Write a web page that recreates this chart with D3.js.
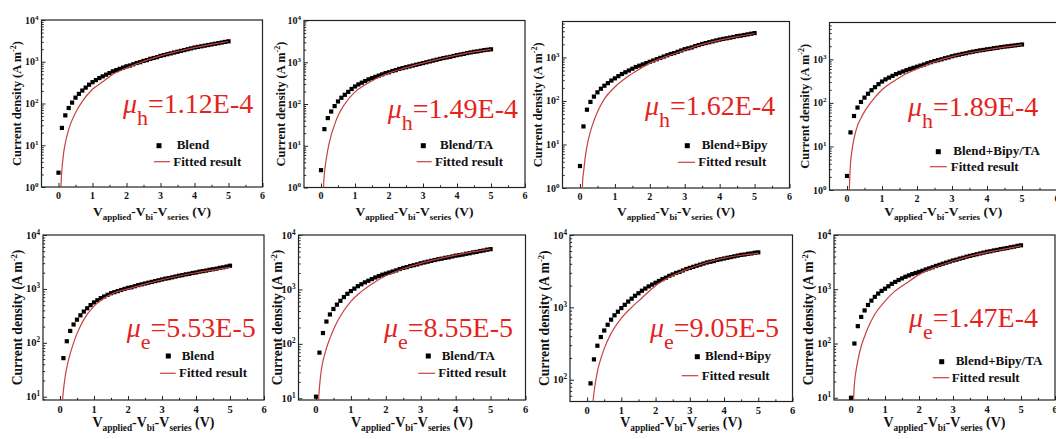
<!DOCTYPE html>
<html>
<head>
<meta charset="utf-8">
<script src="https://cdn.jsdelivr.net/npm/d3@7"></script>
<style>
  html, body { margin: 0; padding: 0; background: #fff; }
  svg { display: block; }
</style>
</head>
<body>
<svg id="chart" width="1056" height="439"></svg>
<script>
// ---------------- DATA ----------------
const voltage = [0,0.1,0.2,0.3,0.4,0.5,0.6,0.7,0.8,0.9,1.0,1.1,1.2,1.3,1.4,1.5,1.6,1.7,1.8,1.9,2.0,
  2.1,2.2,2.3,2.4,2.5,2.6,2.7,2.8,2.9,3.0,3.1,3.2,3.3,3.4,3.5,3.6,3.7,3.8,3.9,4.0,
  4.1,4.2,4.3,4.4,4.5,4.6,4.7,4.8,4.9,5.0];
const fitVoltage = [0.06,0.08,0.1,0.15,0.2,0.3,0.4,0.5,0.7,1.0,1.3,1.6,2.0,2.5,3.0,3.5,4.0,4.5,5.0];

const sampleNames = ["Blend","Blend/TA","Blend+Bipy","Blend+Bipy/TA","Blend","Blend/TA","Blend+Bipy","Blend+Bipy/TA"];
const carriers = ["h","h","h","h","e","e","e","e"];
const mobilities = ["1.12E-4","1.49E-4","1.62E-4","1.89E-4","5.53E-5","8.55E-5","9.05E-5","1.47E-4"];
const fitName = "Fitted result";
const xTicks = [0,1,2,3,4,5,6];
const yDomains = [[1,1e4],[1,1e4],[1,6700],[1,7000],[8.7,1e4],[9.3,1e4],[50,1e4],[9.1,1e4]];

// measured current density (A m^-2)
const jHoleBlend = [2.2,26,52,78,105,138,170,204,240,282,324,363,407,447,490,537,589,631,676,724,776,813,871,933,977,1047,1096,1175,1230,1288,1380,1445,1514,1585,1660,1738,1820,1905,1995,2089,2188,2265,2344,2427,2512,2600,2692,2786,2884,2985,3090];
const jHoleTA = [2.6,25,46,66,89,115,141,166,195,229,263,295,324,355,389,417,447,479,513,550,575,617,646,692,724,759,794,832,871,912,955,1000,1047,1096,1148,1202,1259,1303,1349,1413,1479,1531,1585,1660,1718,1778,1820,1884,1950,1995,2042];
const jHoleBipy = [3.2,26,63,95,126,158,191,224,257,295,331,372,417,457,501,550,603,646,692,741,794,851,912,977,1047,1122,1202,1259,1349,1445,1549,1622,1698,1820,1928,2042,2138,2239,2344,2455,2570,2661,2754,2851,2951,3090,3162,3273,3388,3508,3631];
const jHoleBipyTA = [2.1,21,50,78,105,132,162,195,229,269,309,347,380,417,457,490,525,562,603,638,676,716,759,813,861,912,955,1000,1059,1109,1175,1230,1274,1334,1380,1445,1496,1549,1603,1641,1698,1738,1799,1841,1905,1950,1995,2042,2089,2138,2188];
const jElecBlend = [5,52,107,166,219,269,324,380,437,501,562,617,676,724,776,832,871,912,955,1000,1047,1072,1122,1175,1216,1259,1303,1349,1396,1445,1496,1549,1585,1641,1698,1758,1799,1862,1905,1972,2018,2089,2138,2188,2265,2317,2371,2455,2512,2600,2692];
const jElecTA = [10.7,69,158,257,347,437,525,617,724,832,933,1035,1148,1245,1349,1445,1549,1660,1758,1862,1950,2042,2138,2239,2371,2483,2570,2692,2786,2884,3020,3126,3236,3350,3467,3589,3673,3802,3890,4027,4169,4266,4365,4519,4624,4786,4898,5070,5188,5370,5495];
const jElecBipy = [20,89,191,295,389,479,575,676,776,871,977,1084,1202,1318,1445,1567,1698,1820,1950,2065,2188,2317,2455,2570,2723,2851,2985,3090,3236,3388,3508,3631,3758,3890,4027,4169,4266,4365,4519,4624,4732,4842,4955,5070,5188,5309,5370,5495,5559,5689,5754];
const jElecBipyTA = [10,100,209,309,407,513,617,724,832,933,1023,1135,1259,1365,1479,1585,1698,1799,1905,1995,2089,2188,2317,2427,2541,2692,2818,2951,3090,3236,3388,3508,3673,3802,3981,4121,4266,4416,4571,4732,4898,5012,5188,5309,5495,5623,5754,5957,6095,6310,6457];

// fitted SCLC curves (A m^-2) at fitVoltage
const fitHoleBlend = [0.5,1.5,2.6,6.5,11.2,24,40,60,112,219,331,501,708,1023,1380,1758,2188,2600,3055];
const fitHoleTA = [0.5,1.3,2.2,4.5,8,18,32,52,100,195,288,398,550,741,955,1202,1479,1778,2042];
const fitHoleBipy = [0.5,1.6,2.2,5,9,20,35,56,112,209,331,479,741,1072,1479,1995,2512,3020,3548];
const fitHoleBipyTA = [0.7,2.0,4.0,8.9,15,30,45,63,107,200,302,427,603,871,1148,1413,1660,1905,2138];
const fitElecBlend = [5,9.5,13,23,35,63,100,148,269,479,676,851,1000,1230,1479,1738,1995,2239,2512];
const fitElecTA = [5,10.5,15.8,32,48,83,126,182,324,603,912,1259,1778,2399,3020,3631,4266,4898,5495];
const fitElecBipy = [10,14,19,38,66,129,195,269,437,708,1000,1349,1995,2754,3467,4169,4786,5248,5623];
const fitElecBipyTA = [5,11,17.8,32,48,89,135,195,347,603,933,1259,1862,2570,3311,4074,4786,5495,6310];

const measured = [jHoleBlend,jHoleTA,jHoleBipy,jHoleBipyTA,jElecBlend,jElecTA,jElecBipy,jElecBipyTA];
const fitted = [fitHoleBlend,fitHoleTA,fitHoleBipy,fitHoleBipyTA,fitElecBlend,fitElecTA,fitElecBipy,fitElecBipyTA];

// ---------------- LAYOUT ----------------
const frames = [
  {l:41.5, r:262.5, t:20,   b:187,   ytx:16.7, row:0},
  {l:304,  r:525,   t:20.5, b:187.5, ytx:280.7, row:0},
  {l:562.5,r:789.5, t:21.5, b:188,   ytx:538, row:0},
  {l:829.5,r:1057,  t:22.5, b:190,   ytx:805, row:0},
  {l:43,   r:264,   t:235,  b:400,   ytx:17.7, row:1},
  {l:298.5,r:525.5, t:235,  b:400,   ytx:278, row:1},
  {l:570,  r:792.5, t:235,  b:401.5, ytx:545, row:1},
  {l:834,  r:1055,  t:235,  b:400,   ytx:809, row:1}
];
const muPos = [[123,113.3],[387.7,118.3],[645,115],[908,116],[126.7,336.7],[384,336.7],[650,336.7],[909,327.3]];
const legendPos = [
  {sx:159,sy:145.7,t1:176.7,b1:148.8,lx1:154,lx2:170,ly:161.7,t2:173.3,b2:165.7},
  {sx:423.3,sy:145.7,t1:440,b1:148.8,lx1:416.7,lx2:431.7,ly:161.7,t2:435,b2:165.7},
  {sx:687.3,sy:145.7,t1:701.7,b1:148.8,lx1:678,lx2:695,ly:162.3,t2:698.3,b2:166.2},
  {sx:938.3,sy:151.7,t1:953.3,b1:155,lx1:930,lx2:946.7,ly:166.7,t2:950.7,b2:170.7},
  {sx:168.3,sy:356,t1:181.7,b1:359.5,lx1:160,lx2:175.7,ly:373.3,t2:179,b2:377.2},
  {sx:428.3,sy:356,t1:441.7,b1:359.5,lx1:418.3,lx2:435,ly:373.3,t2:438.3,b2:377.2},
  {sx:697.3,sy:356.7,t1:705,b1:360.2,lx1:681.7,lx2:698.3,ly:375.7,t2:701.7,b2:379.5},
  {sx:941.7,sy:361.7,t1:955.7,b1:365,lx1:932.7,lx2:949.3,ly:377.7,t2:951.7,b2:381.7}
];
const rowStyle = [
  {tick:10, sup:7, title:12.5, titleSup:8, xl:13.5, xlSub:9, xlBase:216, tickBase:11.5},
  {tick:10.5, sup:7.2, title:13.6, titleSup:8.6, xl:14, xlSub:9.3, xlBase:427, tickBase:12.5}
];
const FIT_COLOR = "#c8413f";
const MU_COLOR = "#e3241d";
const FRAME_COLOR = "#222";
const SERIF = '"Liberation Serif", "Times New Roman", serif';

const svg = d3.select("#chart");
svg.append("rect").attr("width",1056).attr("height",439).attr("fill","#fff");
const defs = svg.append("defs");

function txt(sel) { return sel.append("text").attr("font-family", SERIF); }

frames.forEach((f, i) => {
  const rs = rowStyle[f.row];
  const x = d3.scaleLinear().domain([-0.5, 6]).range([f.l, f.r]);
  const y = d3.scaleLog().domain(yDomains[i]).range([f.b, f.t]);
  const g = svg.append("g");

  defs.append("clipPath").attr("id","clip"+i)
    .append("rect").attr("x",f.l).attr("y",f.t).attr("width",f.r-f.l).attr("height",f.b-f.t);

  // frame
  g.append("rect").attr("x",f.l).attr("y",f.t).attr("width",f.r-f.l).attr("height",f.b-f.t)
    .attr("fill","none").attr("stroke",FRAME_COLOR).attr("stroke-width",1.2);

  // x axis ticks (inward)
  const xMinor = [0.5,1.5,2.5,3.5,4.5,5.5];
  const xAx = g.append("g").attr("transform",`translate(0,${f.b})`)
    .call(d3.axisBottom(x).tickValues(xTicks).tickSize(-4).tickFormat(""));
  const xAxMin = g.append("g").attr("transform",`translate(0,${f.b})`)
    .call(d3.axisBottom(x).tickValues(xMinor).tickSize(-2.2).tickFormat(""));
  [xAx, xAxMin].forEach(a => { a.select(".domain").remove(); a.selectAll("line").attr("stroke",FRAME_COLOR).attr("stroke-width",1); });

  // y axis ticks
  const [y0, y1] = yDomains[i];
  const majors = [], minors = [];
  for (let e = Math.floor(Math.log10(y0)); e <= Math.ceil(Math.log10(y1)); e++) {
    const p = Math.pow(10, e);
    if (p >= y0*0.999 && p <= y1*1.001) majors.push(p);
    for (let k = 2; k < 10; k++) { const v = k*p; if (v > y0 && v < y1) minors.push(v); }
  }
  const yAx = g.append("g").attr("transform",`translate(${f.l},0)`)
    .call(d3.axisLeft(y).tickValues(majors).tickSize(-4).tickFormat(""));
  const yAxMin = g.append("g").attr("transform",`translate(${f.l},0)`)
    .call(d3.axisLeft(y).tickValues(minors).tickSize(-2.2).tickFormat(""));
  [yAx, yAxMin].forEach(a => { a.select(".domain").remove(); a.selectAll("line").attr("stroke",FRAME_COLOR).attr("stroke-width",1); });

  // x tick labels
  g.selectAll(".xtl").data(xTicks).join("text")
    .attr("font-family", SERIF)
    .attr("x", d => x(d)).attr("y", f.b + rs.tickBase)
    .attr("text-anchor","middle").attr("font-size",rs.tick).attr("font-weight","bold")
    .attr("fill","#111").text(d => d);

  // y tick labels 10^n
  majors.forEach(v => {
    const t = txt(g).attr("x", f.l - 3).attr("y", y(v) + 3.5)
      .attr("text-anchor","end").attr("font-size",rs.tick).attr("font-weight","bold").attr("fill","#111");
    t.append("tspan").text("10");
    t.append("tspan").attr("font-size",rs.sup).attr("dy",-4).text(Math.round(Math.log10(v)));
  });

  // y axis title
  const cy = (f.t + f.b)/2;
  const yt = txt(g).attr("transform",`translate(${f.ytx + rs.title*0.33},${cy}) rotate(-90)`)
    .attr("text-anchor","middle").attr("font-size",rs.title).attr("font-weight","bold").attr("fill","#111");
  yt.append("tspan").text("Current density (A m");
  yt.append("tspan").attr("font-size",rs.titleSup).attr("dy",-5).text("-2");
  yt.append("tspan").attr("dy",5).text(")");

  // x axis title
  const xt = txt(g).attr("x",(f.l + Math.min(f.r, x(6)))/2).attr("y",rs.xlBase)
    .attr("text-anchor","middle").attr("font-size",rs.xl).attr("font-weight","bold").attr("fill","#111");
  const sd = rs.xl*0.28;
  xt.append("tspan").text("V");
  xt.append("tspan").attr("font-size",rs.xlSub).attr("dy",sd).text("applied");
  xt.append("tspan").attr("dy",-sd).text("-V");
  xt.append("tspan").attr("font-size",rs.xlSub).attr("dy",sd).text("bi");
  xt.append("tspan").attr("dy",-sd).text("-V");
  xt.append("tspan").attr("font-size",rs.xlSub).attr("dy",sd).text("series");
  xt.append("tspan").attr("dy",-sd).text(" (V)");

  // data
  const plot = g.append("g").attr("clip-path",`url(#clip${i})`);
  const pts = voltage.map((v, k) => ({v, j: measured[i][k]}));
  const ms = 4.2;
  plot.selectAll(".pt").data(pts).join("rect")
    .attr("x", d => x(d.v) - ms/2).attr("y", d => y(d.j) - ms/2)
    .attr("width", ms).attr("height", ms).attr("fill","#000");

  const fitPts = fitVoltage.map((v, k) => [v, fitted[i][k]]);
  const line = d3.line().x(d => x(d[0])).y(d => y(d[1])).curve(d3.curveMonotoneX);
  plot.append("path").attr("d", line(fitPts)).attr("fill","none")
    .attr("stroke",FIT_COLOR).attr("stroke-width",1.2);

  // mobility annotation
  const [mx, my] = muPos[i];
  const mt = txt(g).attr("x",mx).attr("y",my).attr("font-size",28).attr("fill",MU_COLOR);
  mt.append("tspan").attr("font-style","italic").text("μ");
  mt.append("tspan").attr("font-size",22).attr("dy",12).text(carriers[i]);
  mt.append("tspan").attr("dy",-12).text("=" + mobilities[i]);

  // legend
  const L = legendPos[i];
  g.append("rect").attr("x",L.sx-2.5).attr("y",L.sy-2.5).attr("width",5).attr("height",5).attr("fill","#000");
  txt(g).attr("x",L.t1).attr("y",L.b1).attr("font-size",13).attr("font-weight","bold").attr("fill","#111").text(sampleNames[i]);
  g.append("line").attr("x1",L.lx1).attr("x2",L.lx2).attr("y1",L.ly).attr("y2",L.ly).attr("stroke",FIT_COLOR).attr("stroke-width",1.2);
  txt(g).attr("x",L.t2).attr("y",L.b2).attr("font-size",13).attr("font-weight","bold").attr("fill","#111").text(fitName);
});
</script>
</body>
</html>
